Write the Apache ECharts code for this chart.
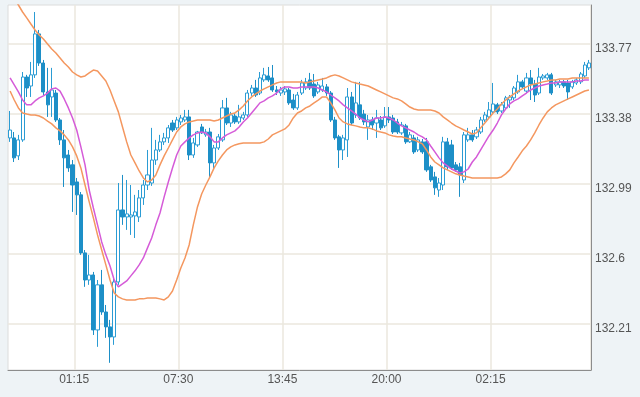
<!DOCTYPE html>
<html><head><meta charset="utf-8">
<script src="https://cdn.jsdelivr.net/npm/echarts@6/dist/echarts.min.js"></script>
<style>html,body{margin:0;padding:0;background:#eef3f6;}#c{width:640px;height:397px;}</style>
</head><body><div id="c"></div>
<script>
// 15-minute bars, first bar at 21:15
const firstTime = '21:15';
const stepMinutes = 15;
const barCount = 140;
const labelStart = 16, labelEvery = 25;
const yTicks = [132.21, 132.6, 132.99, 133.38, 133.77];
const yMin = 131.955, yMax = 133.987;

const opens = [133.247,133.247,133.147,133.236,133.586,133.536,133.598,133.826,133.664,133.503,
133.475,133.497,133.347,133.236,133.152,133.097,133.002,132.930,132.607,132.456,
132.484,132.178,132.429,132.278,132.195,132.139,132.445,132.846,132.807,132.807,
132.813,132.807,132.913,132.985,132.996,133.124,133.180,133.225,133.247,133.330,
133.303,133.336,133.347,133.364,133.152,133.208,133.308,133.264,133.280,133.108,
133.191,133.236,133.414,133.330,133.369,133.336,133.358,133.375,133.497,133.525,
133.497,133.570,133.592,133.581,133.514,133.497,133.503,133.514,133.458,133.414,
133.497,133.525,133.570,133.547,133.503,133.514,133.531,133.497,133.347,133.253,
133.180,133.236,133.475,133.375,133.431,133.380,133.308,133.347,133.330,133.347,
133.314,133.364,133.358,133.336,133.275,133.314,133.225,133.247,133.180,133.225,
133.225,133.086,133.030,132.957,132.985,133.225,133.208,133.097,133.086,133.013,
133.236,133.264,133.253,133.280,133.347,133.364,133.392,133.431,133.397,133.414,
133.458,133.470,133.503,133.559,133.508,133.581,133.547,133.497,133.581,133.581,
133.598,133.542,133.542,133.559,133.553,133.531,133.553,133.559,133.592,133.637];

const closes = [133.291,133.136,133.236,133.586,133.525,133.598,133.826,133.664,133.503,133.431,
133.514,133.347,133.236,133.136,133.080,132.985,132.930,132.607,132.456,132.484,
132.178,132.429,132.278,132.195,132.139,132.445,132.846,132.807,132.824,132.818,
132.835,132.913,132.985,133.041,133.124,133.180,133.225,133.247,133.303,133.291,
133.347,133.358,133.364,133.152,133.219,133.280,133.275,133.280,133.108,133.191,
133.253,133.414,133.330,133.375,133.336,133.364,133.375,133.497,133.525,133.486,
133.581,133.598,133.570,133.514,133.503,133.514,133.520,133.442,133.414,133.486,
133.553,133.559,133.525,133.481,133.542,133.536,133.497,133.347,133.247,133.180,
133.247,133.475,133.330,133.442,133.358,133.336,133.347,133.319,133.358,133.303,
133.364,133.347,133.280,133.280,133.319,133.225,133.264,133.169,133.236,133.169,
133.069,133.013,132.969,132.996,133.225,133.086,133.080,133.069,133.041,133.264,
133.264,133.236,133.291,133.347,133.375,133.403,133.436,133.392,133.431,133.470,
133.475,133.525,133.559,133.531,133.581,133.547,133.486,133.586,133.592,133.598,
133.497,133.559,133.559,133.536,133.503,133.559,133.570,133.603,133.653,133.664];

const lows = [133.225,133.113,133.124,133.225,133.475,133.475,133.581,133.648,133.486,133.364,
133.364,133.336,133.208,132.974,133.058,132.835,132.818,132.596,132.418,132.429,
132.150,132.084,132.262,132.134,131.995,132.095,132.429,132.763,132.735,132.707,
132.690,132.779,132.874,132.957,132.980,133.097,133.169,133.208,133.219,133.280,
133.291,133.319,133.336,133.124,133.136,133.197,133.269,133.253,133.030,133.069,
133.180,133.225,133.319,133.308,133.325,133.325,133.347,133.364,133.481,133.475,
133.486,133.559,133.559,133.503,133.486,133.481,133.486,133.431,133.403,133.403,
133.486,133.514,133.514,133.470,133.492,133.503,133.481,133.336,133.236,133.080,
133.124,133.141,133.319,133.358,133.347,133.319,133.236,133.291,133.247,133.291,
133.303,133.330,133.269,133.269,133.264,133.214,133.219,133.158,133.169,133.158,
133.058,133.002,132.930,132.919,132.957,133.069,133.069,133.058,132.919,132.996,
133.225,133.225,133.241,133.269,133.336,133.353,133.380,133.380,133.386,133.403,
133.414,133.458,133.492,133.520,133.497,133.458,133.447,133.486,133.570,133.570,
133.486,133.531,133.525,133.525,133.458,133.520,133.542,133.547,133.581,133.625];

const highs = [133.397,133.280,133.264,133.614,133.598,133.670,133.948,133.848,133.681,133.637,
133.637,133.514,133.358,133.291,133.180,133.124,133.024,132.946,132.623,132.596,
132.501,132.456,132.512,132.317,132.234,132.468,132.996,133.041,133.013,132.985,
132.930,132.957,133.013,133.180,133.303,133.236,133.264,133.275,133.319,133.347,
133.364,133.375,133.403,133.403,133.247,133.286,133.325,133.297,133.303,133.208,
133.269,133.458,133.470,133.392,133.386,133.431,133.392,133.514,133.542,133.570,
133.614,133.637,133.642,133.653,133.536,133.531,133.536,133.525,133.492,133.503,
133.570,133.581,133.609,133.603,133.559,133.581,133.547,133.508,133.364,133.264,
133.264,133.525,133.503,133.559,133.559,133.403,133.375,133.364,133.403,133.369,
133.419,133.419,133.375,133.353,133.336,133.325,133.280,133.264,133.253,133.241,
133.247,133.097,133.058,133.024,133.253,133.247,133.236,133.113,133.108,133.280,
133.303,133.291,133.308,133.364,133.392,133.447,133.553,133.442,133.447,133.481,
133.486,133.536,133.598,133.570,133.609,133.625,133.570,133.637,133.603,133.609,
133.609,133.570,133.570,133.570,133.570,133.570,133.581,133.614,133.670,133.681];

const maLine = [133.581,133.542,133.503,133.458,133.431,133.431,133.453,133.470,133.481,133.497,
133.520,133.525,133.508,133.464,133.414,133.358,133.291,133.197,133.097,132.957,
132.857,132.763,132.668,132.596,132.534,132.456,132.418,132.434,132.451,132.479,
132.507,132.540,132.579,132.635,132.690,132.763,132.829,132.919,133.002,133.080,
133.152,133.202,133.225,133.247,133.264,133.275,133.280,133.275,133.253,133.225,
133.225,133.247,133.264,133.275,133.286,133.308,133.336,133.358,133.386,133.414,
133.442,133.453,133.470,133.481,133.497,133.520,133.531,133.531,133.525,133.525,
133.531,133.531,133.531,133.531,133.525,133.514,133.503,133.486,133.470,133.453,
133.431,133.414,133.397,133.380,133.358,133.347,133.336,133.347,133.358,133.358,
133.364,133.358,133.347,133.330,133.314,133.303,133.291,133.280,133.264,133.253,
133.236,133.202,133.169,133.136,133.108,133.091,133.074,133.063,133.052,133.058,
133.074,133.113,133.141,133.180,133.219,133.258,133.291,133.330,133.375,133.408,
133.436,133.453,133.464,133.481,133.497,133.514,133.525,133.536,133.542,133.547,
133.553,133.553,133.559,133.559,133.559,133.559,133.564,133.564,133.570,133.570];

const upperBand = [134.054,134.021,133.987,133.948,133.915,133.881,133.848,133.820,133.798,133.770,
133.742,133.720,133.692,133.664,133.642,133.614,133.598,133.586,133.592,133.609,
133.625,133.620,133.592,133.564,133.514,133.453,133.392,133.308,133.225,133.152,
133.108,133.063,133.024,133.002,133.013,133.041,133.097,133.147,133.191,133.236,
133.280,133.308,133.325,133.336,133.341,133.347,133.347,133.347,133.347,133.341,
133.347,133.358,133.369,133.380,133.386,133.403,133.425,133.453,133.475,133.492,
133.508,133.520,133.531,133.542,133.553,133.559,133.559,133.559,133.559,133.559,
133.559,133.553,133.559,133.564,133.570,133.575,133.581,133.592,133.598,133.592,
133.581,133.570,133.559,133.553,133.547,133.542,133.536,133.525,133.514,133.503,
133.492,133.481,133.470,133.464,133.453,133.436,133.419,133.408,133.403,133.403,
133.403,133.403,133.397,133.386,133.364,133.347,133.330,133.314,133.303,133.291,
133.280,133.269,133.275,133.303,133.330,133.358,133.386,133.408,133.436,133.458,
133.475,133.492,133.508,133.520,133.531,133.542,133.547,133.553,133.559,133.564,
133.570,133.570,133.575,133.575,133.575,133.581,133.581,133.581,133.581,133.581];

const lowerBand = [133.508,133.458,133.414,133.386,133.380,133.375,133.375,133.369,133.358,133.341,
133.325,133.303,133.286,133.264,133.236,133.197,133.147,133.080,132.985,132.891,
132.802,132.707,132.623,132.540,132.456,132.384,132.362,132.351,132.345,132.345,
132.345,132.351,132.351,132.356,132.356,132.356,132.351,132.345,132.362,132.395,
132.456,132.523,132.579,132.651,132.763,132.863,132.935,132.985,133.030,133.080,
133.119,133.152,133.180,133.197,133.208,133.214,133.219,133.219,133.219,133.219,
133.219,133.225,133.241,133.264,133.275,133.286,133.297,133.319,133.358,133.386,
133.397,133.414,133.425,133.442,133.458,133.475,133.475,133.442,133.403,133.358,
133.336,133.325,133.319,133.314,133.308,133.303,133.303,133.297,133.286,133.280,
133.275,133.264,133.258,133.253,133.253,133.247,133.241,133.236,133.225,133.214,
133.180,133.141,133.113,133.097,133.080,133.069,133.058,133.047,133.041,133.035,
133.030,133.024,133.024,133.024,133.024,133.024,133.024,133.024,133.030,133.047,
133.069,133.108,133.141,133.175,133.202,133.236,133.275,133.319,133.358,133.392,
133.414,133.431,133.442,133.453,133.464,133.475,133.486,133.497,133.508,133.514];

function pad(n){return (n<10?'0':'')+n;}
const categories = [];
{
  const p = firstTime.split(':');
  let m0 = (+p[0])*60 + (+p[1]);
  for (let i=0;i<barCount;i++){
    const m = (m0 + i*stepMinutes) % 1440;
    categories.push(pad(Math.floor(m/60)) + ':' + pad(m%60));
  }
}
const candleData = opens.map((o,i)=>[o, closes[i], lows[i], highs[i]]);
const showIdx = (idx) => idx >= labelStart && (idx - labelStart) % labelEvery === 0;

const chart = echarts.init(document.getElementById('c'), null, {renderer:'canvas'});
const txt = {color:'#555', fontSize:12, fontFamily:'Arial, "Liberation Sans", sans-serif'};
chart.setOption({
  animation:false,
  backgroundColor:'#eef3f6',
  grid:{left:8, right:49, top:5, bottom:27, show:true, backgroundColor:'#ffffff', borderColor:'#dcdcdc', borderWidth:1},
  xAxis:{
    type:'category', data:categories, boundaryGap:true,
    axisLine:{show:true, lineStyle:{color:'#8c8c8c', width:1}},
    axisTick:{show:false},
    axisLabel:Object.assign({interval:(i)=>showIdx(i), margin:4, padding:[0,5,0,0]}, txt),
    splitLine:{show:true, interval:(i)=>showIdx(i), lineStyle:{color:'#ebe7de', width:1.5}}
  },
  yAxis:{
    type:'value', position:'right', min:yMin, max:yMax,
    axisLine:{show:true, lineStyle:{color:'#8c8c8c', width:1}},
    axisTick:{show:false, customValues:yTicks},
    axisLabel:Object.assign({customValues:yTicks, margin:4, verticalAlign:'top', lineHeight:9, formatter:(v)=>String(v)}, txt),
    splitLine:{show:true, lineStyle:{color:'#ebe7de', width:1.5}}
  },
  series:[
    {type:'candlestick', data:candleData, barWidth:3.6,
     itemStyle:{color:'#ffffff', color0:'#1d8fc7', borderColor:'#2b9cd4', borderColor0:'#1d8fc7', borderWidth:1}},
    {type:'line', data:upperBand, showSymbol:false, symbol:'none', lineStyle:{color:'#f4975f', width:1.5}},
    {type:'line', data:lowerBand, showSymbol:false, symbol:'none', lineStyle:{color:'#f4975f', width:1.5}},
    {type:'line', data:maLine, showSymbol:false, symbol:'none', lineStyle:{color:'#d55bd8', width:1.5}}
  ]
});
</script></body></html>
